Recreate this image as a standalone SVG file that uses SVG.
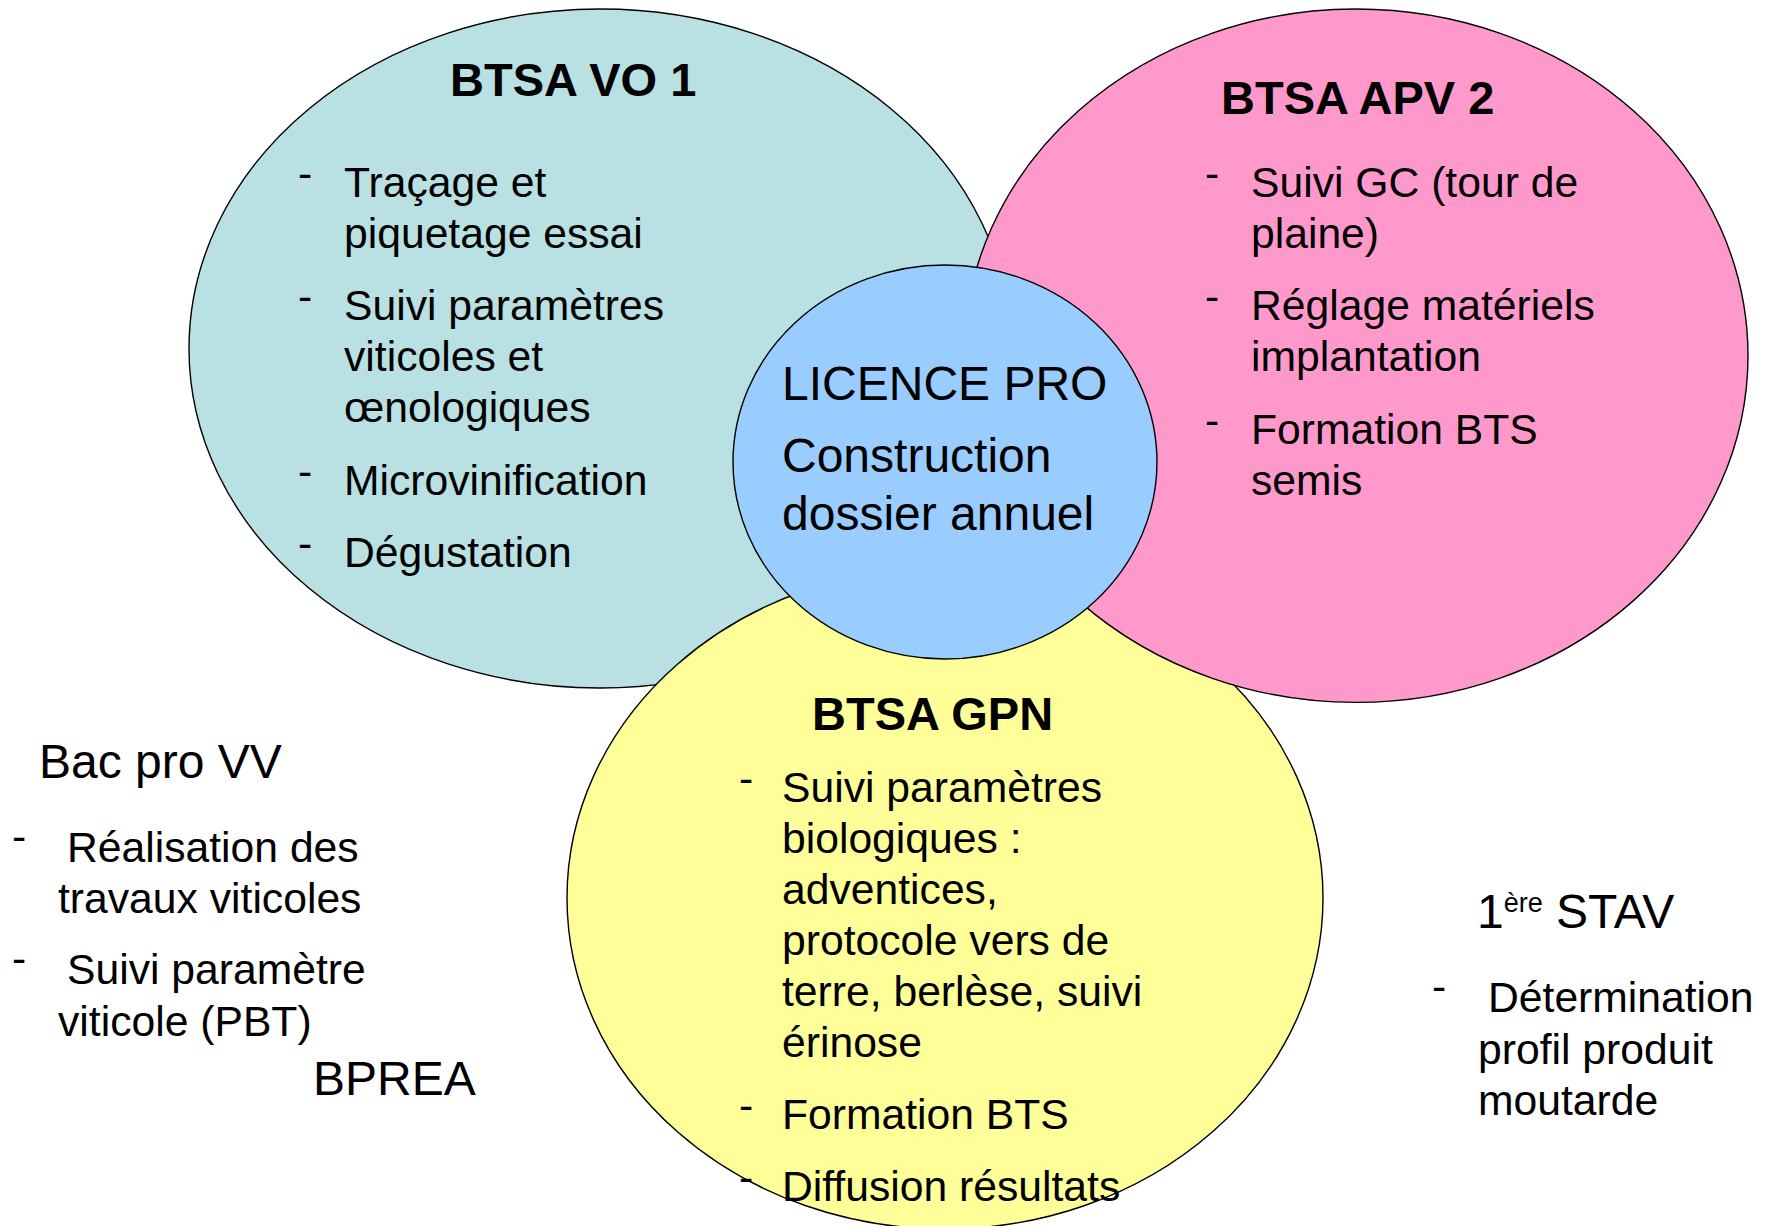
<svg xmlns="http://www.w3.org/2000/svg" width="1771" height="1226" viewBox="0 0 1771 1226">
<style>
  .shape { stroke: #000; stroke-width: 1.4; }
  .t { font-family: "Liberation Sans", Arial, sans-serif; font-size: 42.67px; fill: #000; }
  .big { font-family: "Liberation Sans", Arial, sans-serif; font-size: 48px; fill: #000; }
  .title { font-family: "Liberation Sans", Arial, sans-serif; font-size: 47px; font-weight: bold; fill: #000; }
</style>
<rect x="0" y="0" width="1771" height="1226" fill="#ffffff"/>
<g id="connectors"/>

<g id="btsa-vo1">
  <ellipse class="shape" cx="600" cy="348.5" rx="411" ry="339.5" fill="#B9E0E2"/>
  <text class="title" x="450" y="96">BTSA VO 1</text>
  <text class="t" x="298" y="187.5">-</text>
  <text class="t" x="344" y="196.5">Traçage et</text>
  <text class="t" x="344" y="247.5">piquetage essai</text>
  <text class="t" x="298" y="311">-</text>
  <text class="t" x="344" y="320">Suivi paramètres</text>
  <text class="t" x="344" y="371">viticoles et</text>
  <text class="t" x="344" y="422">œnologiques</text>
  <text class="t" x="298" y="485.5">-</text>
  <text class="t" x="344" y="494.5">Microvinification</text>
  <text class="t" x="298" y="558">-</text>
  <text class="t" x="344" y="567">Dégustation</text>
</g>

<g id="btsa-gpn">
  <ellipse class="shape" cx="945" cy="898" rx="378" ry="331" fill="#FFFF99"/>
  <text class="title" x="812" y="730">BTSA GPN</text>
  <text class="t" x="739" y="793">-</text>
  <text class="t" x="782" y="802">Suivi paramètres</text>
  <text class="t" x="782" y="853">biologiques :</text>
  <text class="t" x="782" y="904">adventices,</text>
  <text class="t" x="782" y="955">protocole vers de</text>
  <text class="t" x="782" y="1006">terre, berlèse, suivi</text>
  <text class="t" x="782" y="1057">érinose</text>
  <text class="t" x="739" y="1120">-</text>
  <text class="t" x="782" y="1129">Formation BTS</text>
  <text class="t" x="739" y="1192">-</text>
  <text class="t" x="782" y="1201">Diffusion résultats</text>
</g>

<g id="btsa-apv2">
  <ellipse class="shape" cx="1356" cy="355.7" rx="392" ry="346.7" fill="#FF99CC"/>
  <text class="title" x="1221" y="114">BTSA APV 2</text>
  <text class="t" x="1205" y="187.5">-</text>
  <text class="t" x="1251" y="196.5">Suivi GC (tour de</text>
  <text class="t" x="1251" y="247.5">plaine)</text>
  <text class="t" x="1205" y="311">-</text>
  <text class="t" x="1251" y="320">Réglage matériels</text>
  <text class="t" x="1251" y="371">implantation</text>
  <text class="t" x="1205" y="434.5">-</text>
  <text class="t" x="1251" y="443.5">Formation BTS</text>
  <text class="t" x="1251" y="494.5">semis</text>
</g>

<g id="licence-pro">
  <ellipse class="shape" cx="945" cy="462" rx="212" ry="197" fill="#99CCFF"/>
  <text class="big" x="782" y="400">LICENCE PRO</text>
  <text class="big" x="782" y="472">Construction</text>
  <text class="big" x="782" y="530">dossier annuel</text>
</g>

<g id="bac-pro-vv">
  <text class="big" x="39" y="778">Bac pro VV</text>
  <text class="t" x="12" y="851">-</text>
  <text class="t" x="67" y="862">Réalisation des</text>
  <text class="t" x="58" y="912.6">travaux viticoles</text>
  <text class="t" x="12" y="973">-</text>
  <text class="t" x="67" y="984">Suivi paramètre</text>
  <text class="t" x="58" y="1036">viticole (PBT)</text>
</g>

<g id="bprea">
  <text class="big" x="313" y="1094.5">BPREA</text>
</g>

<g id="stav">
  <text class="big" x="1477" y="928">1<tspan font-size="27" dy="-16">ère</tspan><tspan dy="16"> STAV</tspan></text>
  <text class="t" x="1432" y="1001">-</text>
  <text class="t" x="1488" y="1012">Détermination</text>
  <text class="t" x="1478" y="1064">profil produit</text>
  <text class="t" x="1478" y="1115">moutarde</text>
</g>
</svg>
